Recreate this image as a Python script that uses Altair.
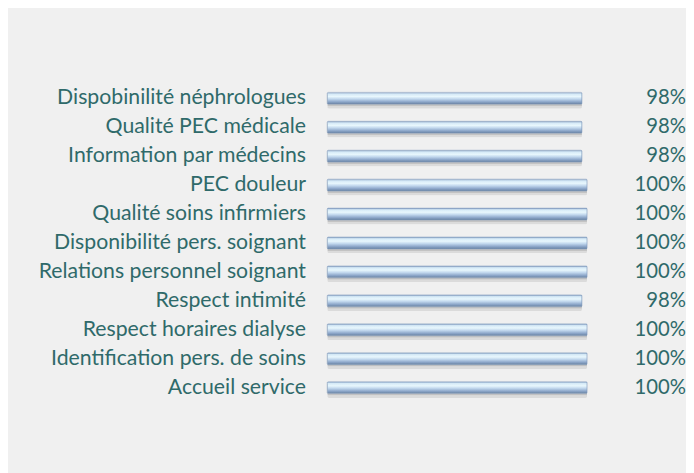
import altair as alt
import pandas as pd

categories = [
    "Dispobinilité néphrologues",
    "Qualité PEC médicale",
    "Information par médecins",
    "PEC douleur",
    "Qualité soins infirmiers",
    "Disponibilité pers. soignant",
    "Relations personnel soignant",
    "Respect intimité",
    "Respect horaires dialyse",
    "Identification pers. de soins",
    "Accueil service",
]
values = [98, 98, 98, 100, 100, 100, 100, 98, 100, 100, 100]
labels = [f"{v}%" for v in values]

df = pd.DataFrame({"cat": categories, "val": values, "label": labels})

TEXT = "#2f6a6a"
FONT = "Lato"

W, H = 263, 322

y_enc = alt.Y("cat:N", sort=categories,
              scale=alt.Scale(paddingInner=0, paddingOuter=0),
              axis=alt.Axis(title=None, domain=False, ticks=False,
                            labelPadding=22, labelFontSize=21.5,
                            labelFont=FONT, labelColor=TEXT,
                            labelLimit=400))
x_enc = alt.X("val:Q", scale=alt.Scale(domain=[0, 100], nice=False, zero=True),
              axis=None)

base = alt.Chart(df)

shadow1 = base.mark_bar(color="#6f6f6f", opacity=0.16, size=15, yOffset=3,
                        cornerRadius=2).encode(y=y_enc, x=x_enc)
shadow2 = base.mark_bar(color="#6f6f6f", opacity=0.22, size=12, yOffset=2,
                        cornerRadius=1).encode(y=y_enc, x=x_enc)

grad = alt.LinearGradient(
    gradient="linear",
    stops=[
        alt.GradientStop(color="#8fa8c8", offset=0),
        alt.GradientStop(color="#d6eaf7", offset=0.15),
        alt.GradientStop(color="#e8f7fd", offset=0.35),
        alt.GradientStop(color="#c2d8ee", offset=0.55),
        alt.GradientStop(color="#8ca6c9", offset=0.8),
        alt.GradientStop(color="#67819f", offset=1),
    ],
    x1=0, x2=0, y1=0, y2=1,
)
bars = base.mark_bar(color=grad, size=12, cornerRadius=1,
                     stroke="#7f98bb", strokeWidth=0.5).encode(y=y_enc, x=x_enc)

text = base.mark_text(align="right", baseline="middle", font=FONT,
                      fontSize=20.5, color=TEXT).encode(
    y=alt.Y("cat:N", sort=categories),
    x=alt.value(363),
    text="label:N",
)

chart = alt.layer(shadow1, shadow2, bars, text).properties(
    width=W, height=H,
    autosize=alt.AutoSizeParams(type="none"),
    padding={"left": 323, "top": 74, "right": 100, "bottom": 69},
    background="#f0f0f0",
).configure_view(stroke=None)

chart.save("out.html", embed_options={"renderer": "svg", "actions": False})
